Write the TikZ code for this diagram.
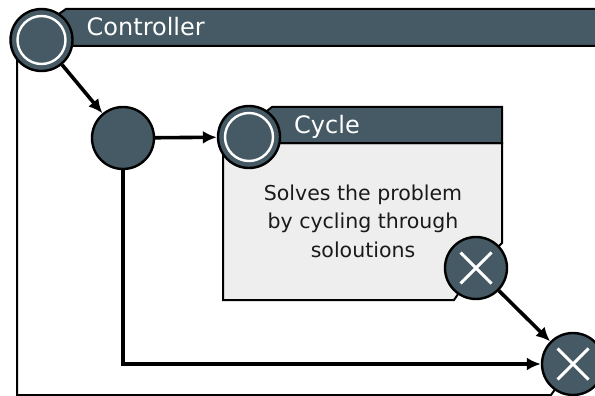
\documentclass[tikz,border=0pt]{standalone}
\usepackage{fontspec}
\setmainfont{DejaVu Sans}
\usetikzlibrary{arrows.meta}
\definecolor{slate}{HTML}{455A64}
\definecolor{panel}{HTML}{EEEEEE}
\definecolor{ink}{HTML}{1A1A1A}

\begin{document}
\begin{tikzpicture}[x=1pt,y=-1pt,
  frame/.style={draw=black,line width=2pt,line join=miter},
  bar/.style={frame,fill=slate},
  event/.style={circle,draw=black,line width=2.4pt,fill=slate,
    minimum size=62pt,inner sep=0pt},
  startev/.style={event,path picture={
    \draw[white,line width=2.4pt] (path picture bounding box.center) circle[radius=24pt];}},
  endev/.style={event,path picture={
    \draw[white,line width=3pt]
      ([shift={(-15.5pt,-15.5pt)}]path picture bounding box.center) -- ++(31pt,31pt)
      ([shift={(-15.5pt,15.5pt)}]path picture bounding box.center) -- ++(31pt,-31pt);}},
  flow/.style={line width=3.6pt,-{Latex[length=14pt,width=13pt]}},
  title/.style={text=white,font=\fontsize{24}{28}\selectfont,anchor=base west,inner sep=0pt},
  body/.style={text=ink,font=\fontsize{20.5}{28.5}\selectfont,align=center,inner sep=0pt},
]
\useasboundingbox (0,0) rectangle (595,396);

% Controller sub-process: body, then title bar
\path[frame,fill=white] (17,46) -- (17,395) -- (551,395) -- (573,364) -- (620,364)
  -- (620,46) -- cycle;
\path[bar] (66,9) -- (620,9) -- (620,46) -- (50,46) -- (50,20) -- cycle;
\node[title] (ctrltitle) at (86.5,36) {Controller};

% Cycle sub-process: body with cut corner, then title bar
\path[frame,fill=panel] (223,143) -- (502,143) -- (502,243) -- (476,268) -- (454,300)
  -- (223,300) -- cycle;
\path[bar] (272,107) -- (502,107) -- (502,143) -- (258,143) -- (258,118) -- cycle;
\node[title] (cyctitle) at (294,133) {Cycle};
\node[body] (cycbody) at (363,221) {Solves the problem\\by cycling through\\soloutions};

% events and gateway
\node[startev] (ctrl) at (41.5,40) {};
\node[event]   (junc) at (123,138) {};
\node[startev] (cyc)  at (249,137) {};
\node[endev]   (cycx) at (476,268) {};
\node[endev]   (endx) at (573,364) {};

% sequence flows
\draw[flow] (ctrl) -- (junc);
\draw[flow] (junc) -- (cyc);
\draw[flow] (cycx) -- (endx);
\draw[flow] (junc) |- (endx);
\end{tikzpicture}
\end{document}
